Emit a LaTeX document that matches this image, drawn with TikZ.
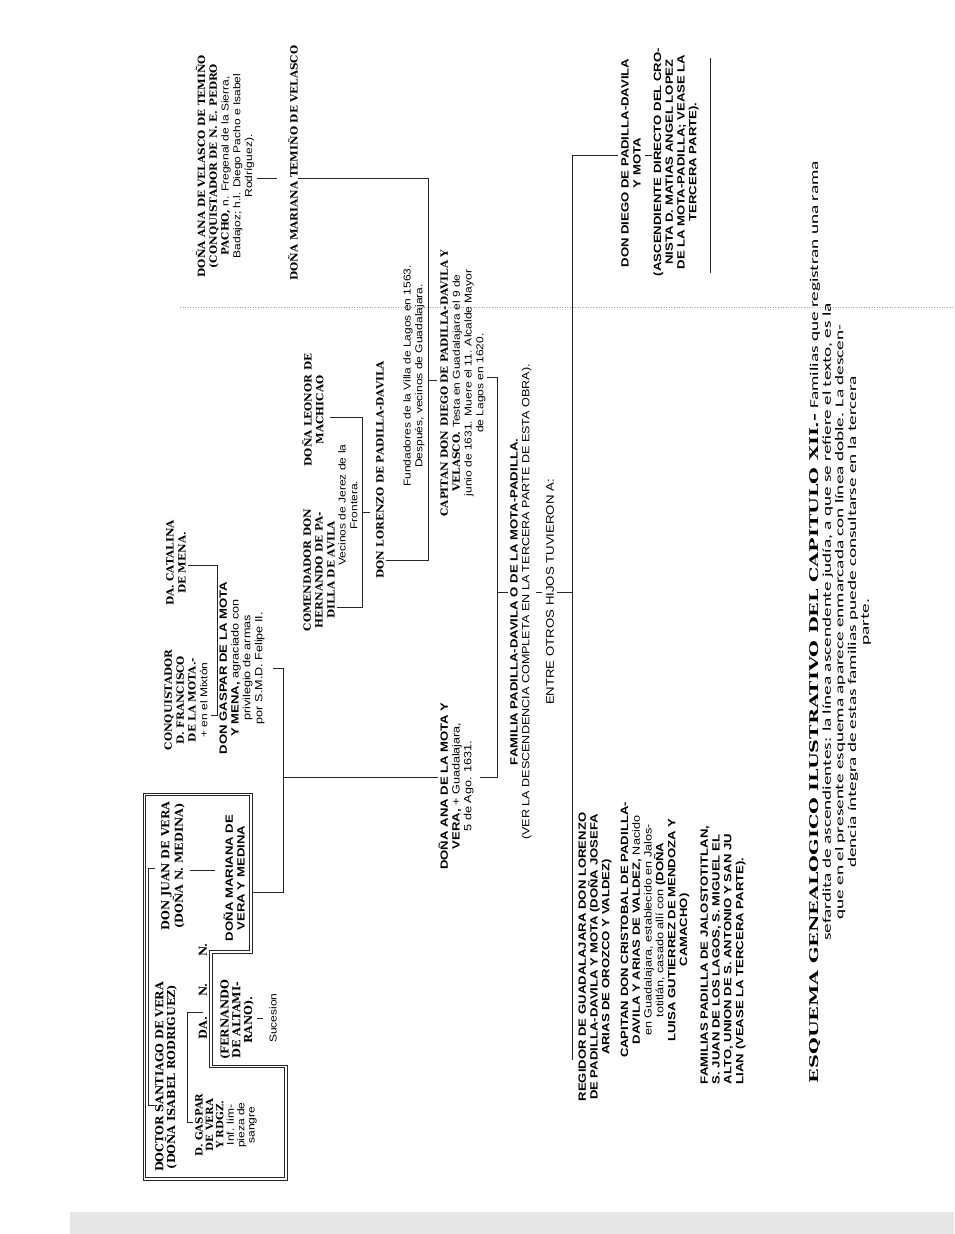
\documentclass[tikz,border=0pt]{standalone}
\usepackage{fontspec}
\setmainfont{Liberation Sans}
\newfontfamily\nmf{Liberation Sans}[FakeStretch=1.25]
\newfontfamily\ntf{Liberation Sans}[FakeStretch=1.2]
\newfontfamily\slf{DejaVu Serif}[FakeStretch=1.05]
\newfontfamily\slvf{DejaVu Serif}[FakeStretch=1.02]
\newfontfamily\cpf{Carlito}[FakeStretch=1.6]
\newfontfamily\cpsl{DejaVu Serif}[FakeStretch=1.6]
\tikzset{
  base/.style={rotate=90, inner sep=0pt, outer sep=0pt, align=center},
  nm/.style={base, font=\nmf\bfseries\fontsize{10.5}{11.8}\selectfont},
  sl/.style={base, font=\slf\bfseries\fontsize{10}{11.8}\selectfont},
  slv/.style={base, font=\slvf\bfseries\fontsize{11}{11.8}\selectfont},
  nt/.style={base, font=\ntf\fontsize{10}{11.8}\selectfont},
  capn/.style={base, font=\cpf\fontsize{12}{12.7}\selectfont},
  ln/.style={line width=0.7pt, draw=black!85},
  frame/.style={line width=0.6pt, draw=black!85},
}
\begin{document}
\begin{tikzpicture}[x=1pt, y=-1pt]
\useasboundingbox (0,0) rectangle (954,1234);
\fill[white] (0,0) rectangle (954,1234);
\fill[black!10] (70,1212) rectangle (954,1234);
\draw[black!35, dotted, line width=0.6pt] (180,307) -- (954,307);

% ---------- Vera family (double frame)
\draw[frame] (143,793) -- (252,793) -- (252,953) -- (212,953) -- (212,1065) -- (287,1065) -- (287,1180) -- (143,1180) -- cycle;
\draw[frame] (145.5,795.5) -- (249.5,795.5) -- (249.5,950.5) -- (209.5,950.5) -- (209.5,1067.5) -- (284.5,1067.5) -- (284.5,1177.5) -- (145.5,1177.5) -- cycle;
\node[slv] (santiago) at (166,1077) {DOCTOR SANTIAGO DE VERA\\(DOÑA ISABEL RODRIGUEZ)};
\node[slv] (juan) at (173,866) {DON JUAN DE VERA\\(DOÑA N. MEDINA)};
\node[slv, font=\slvf\bfseries\fontsize{10}{10.4}\selectfont] (gaspv) at (226,1125) {D. GASPAR\\DE VERA\\Y RDGZ.\\{\ntf\mdseries Inf. lim-}\\{\ntf\mdseries pieza de}\\{\ntf\mdseries sangre}};
\node[slv] (da) at (203,1028) {DA.};
\node[slv] (n1) at (203,990) {N.};
\node[slv] (n2) at (203,950) {N.};
\node[slv] (fern) at (237,1020) {(FERNANDO\\DE ALTAMI-\\RANO).};
\node[nt] (suc) at (273,1018) {Sucesion};
\node[nm] (marv) at (234,878) {DOÑA MARIANA DE\\VERA Y MEDINA};

\coordinate (sj1) at (155,868); \coordinate (sj2) at (148,868);
\coordinate (sj3) at (148,1105); \coordinate (sj4) at (155,1105);
\draw[ln] (sj1) -- (sj2) -- (sj3) -- (sj4);
\coordinate (ch1) at (203,1012); \coordinate (ch2) at (187,1012);
\coordinate (ch3) at (187,1122); \coordinate (ch4) at (193,1122);
\draw[ln] (ch1) -- (ch2) -- (ch3) -- (ch4);
\coordinate (jm1) at (190,870); \coordinate (jm2) at (215,870);
\draw[ln] (jm1) -- (jm2);
\coordinate (fs1) at (257,1018); \coordinate (fs2) at (263,1018);
\draw[ln] (fs1) -- (fs2);

% ---------- Mota family
\node[sl] (conq) at (186,700) {CONQUISTADOR\\D. FRANCISCO\\DE LA MOTA.-\\{\ntf\mdseries + en el Mixtón}};
\node[sl] (cata) at (176,563) {DA. CATALINA\\DE MENA.};
\node[nm] (gaspm) at (242,668) {DON GASPAR DE LA MOTA\\Y MENA, {\ntf\mdseries agraciado con}\\{\ntf\mdseries privilegio de armas}\\{\ntf\mdseries por S.M.D. Felipe II.}};
\node[nm] (anam) at (456,786) {DOÑA ANA DE LA MOTA Y\\VERA, {\ntf\mdseries + Guadalajara,}\\{\ntf\mdseries 5 de Ago. 1631.}};

\coordinate (cc1) at (188,565); \coordinate (cc2) at (217,565);
\coordinate (cc3) at (217,715); \coordinate (cc4) at (211,715);
\draw[ln] (cc1) -- (cc2) -- (cc3) -- (cc4);
\coordinate (bx) at (252,892); \coordinate (mv1) at (283,892);
\coordinate (mv2) at (283,668); \coordinate (mv3) at (273,668);
\coordinate (mv4) at (283,777); \coordinate (am1) at (438,777);
\draw[ln] (bx) -- (mv1) -- (mv2) -- (mv3);
\draw[ln] (mv4) -- (am1);

% ---------- Velasco / Padilla family
\node[sl] (anav) at (225,166) {DOÑA ANA DE VELASCO DE TEMIÑO\\(CONQUISTADOR DE N. E. PEDRO\\PACHO, {\ntf\mdseries n. Fregenal de la Sierra,}\\{\ntf\mdseries Badajoz; h.l. Diego Pacho e Isabel}\\{\ntf\mdseries Rodríguez).}};
\node[sl] (mart) at (293,163) {DOÑA MARIANA TEMIÑO DE VELASCO};
\node[sl] (leon) at (313,410) {DOÑA LEONOR DE\\MACHICAO};
\node[sl] (comen) at (319,570) {COMENDADOR DON\\HERNANDO DE PA-\\DILLA DE AVILA};
\node[nt] (vec) at (348,505) {Vecinos de Jerez de la\\Frontera.};
\node[sl] (lore) at (380,470) {DON LORENZO DE PADILLA-DAVILA};
\node[nt] (fund) at (414,376) {Fundadores de la Villa de Lagos en 1563.\\Después, vecinos de Guadalajara.};
\node[sl] (capd) at (463,383) {CAPITAN DON DIEGO DE PADILLA-DAVILA Y\\VELASCO. {\ntf\mdseries Testa en Guadalajara el 9 de}\\{\ntf\mdseries junio de 1631. Muere el 11. Alcalde Mayor}\\{\ntf\mdseries de Lagos en 1620.}};

\coordinate (vt1) at (257,178); \coordinate (vt2) at (277,178);
\draw[ln] (vt1) -- (vt2);
\coordinate (mt1) at (298,178); \coordinate (mt2) at (428,178);
\coordinate (mt3) at (428,560); \coordinate (mt4) at (386,560);
\draw[ln] (mt1) -- (mt2) -- (mt3) -- (mt4);
\coordinate (cd1) at (428,380); \coordinate (cd2) at (437,380);
\draw[ln] (cd1) -- (cd2);
\coordinate (lc1) at (330,417); \coordinate (lc2) at (362,417);
\coordinate (lc3) at (362,607); \coordinate (lc4) at (337,607);
\draw[ln] (lc1) -- (lc2) -- (lc3) -- (lc4);
\coordinate (lt1) at (362,512); \coordinate (lt2) at (370,512);
\draw[ln] (lt1) -- (lt2);

% ---------- Padilla-Davila o de la Mota-Padilla
\node[nm] (fam) at (521,602) {FAMILIA PADILLA-DAVILA O DE LA MOTA-PADILLA.\\{\ntf\mdseries (VER LA DESCENDENCIA COMPLETA EN LA TERCERA PARTE DE ESTA OBRA).}};
\node[nt, font=\ntf\fontsize{11}{11.8}\selectfont] (entre) at (550,592) {ENTRE OTROS HIJOS TUVIERON A:};
\coordinate (pa1) at (480,777); \coordinate (pa2) at (497,777);
\coordinate (pa3) at (497,377); \coordinate (pa4) at (487,377);
\draw[ln] (pa1) -- (pa2) -- (pa3) -- (pa4);
\coordinate (ft1) at (497,592); \coordinate (ft2) at (508,592);
\draw[ln] (ft1) -- (ft2);
\coordinate (et1) at (536,592); \coordinate (et2) at (542,592);
\draw[ln] (et1) -- (et2);
\coordinate (hb0) at (557,592); \coordinate (hb1) at (572,592);
\coordinate (hbt) at (572,155); \coordinate (hbb) at (572,1060);
\coordinate (dg1) at (618,155);
\draw[ln] (hb0) -- (hb1);
\draw[ln] (hbt) -- (hbb);
\draw[ln] (hbt) -- (dg1);

\node[nm] (dieg) at (631,163) {DON DIEGO DE PADILLA-DAVILA\\Y MOTA};
\node[nm] (asc) at (676,162) {(ASCENDIENTE DIRECTO DEL CRO-\\NISTA D. MATIAS ANGEL LOPEZ\\DE LA MOTA-PADILLA; VEASE LA\\TERCERA PARTE).};
\coordinate (at1) at (645,155); \coordinate (at2) at (652,155);
\draw[ln] (at1) -- (at2);
\coordinate (ul1) at (710,58); \coordinate (ul2) at (710,273);
\draw[ln] (ul1) -- (ul2);

\node[nm] (regi) at (595,957) {REGIDOR DE GUADALAJARA DON LORENZO\\DE PADILLA-DAVILA Y MOTA (DOÑA JOSEFA\\ARIAS DE OROZCO Y VALDEZ)};
\node[nm] (cris) at (655,930) {CAPITAN DON CRISTOBAL DE PADILLA-\\DAVILA Y ARIAS DE VALDEZ, {\ntf\mdseries Nacido}\\{\ntf\mdseries en Guadalajara, establecido en Jalos-}\\{\ntf\mdseries totitlán, casado allí con} (DOÑA\\LUISA GUTIERREZ DE MENDOZA Y\\CAMACHO)};
\node[nm, align=left] (fams) at (723,955) {FAMILIAS PADILLA DE JALOSTOTITLAN,\\S. JUAN DE LOS LAGOS, S. MIGUEL EL\\ALTO, UNION DE S. ANTONIO Y SAN JU\\LIAN (VEASE LA TERCERA PARTE).};

% ---------- caption
\node[capn] (capt) at (840,622) {{\cpsl\bfseries ESQUEMA GENEALOGICO ILUSTRATIVO DEL CAPITULO XII.-} Familias que registran una rama\\sefardita de ascendientes: la línea ascendente judía, a que se refiere el texto, es la\\que en el presente esquema aparece enmarcada con línea doble. La descen-\\dencia íntegra de estas familias puede consultarse en la tercera\\parte.};
\end{tikzpicture}
\end{document}
